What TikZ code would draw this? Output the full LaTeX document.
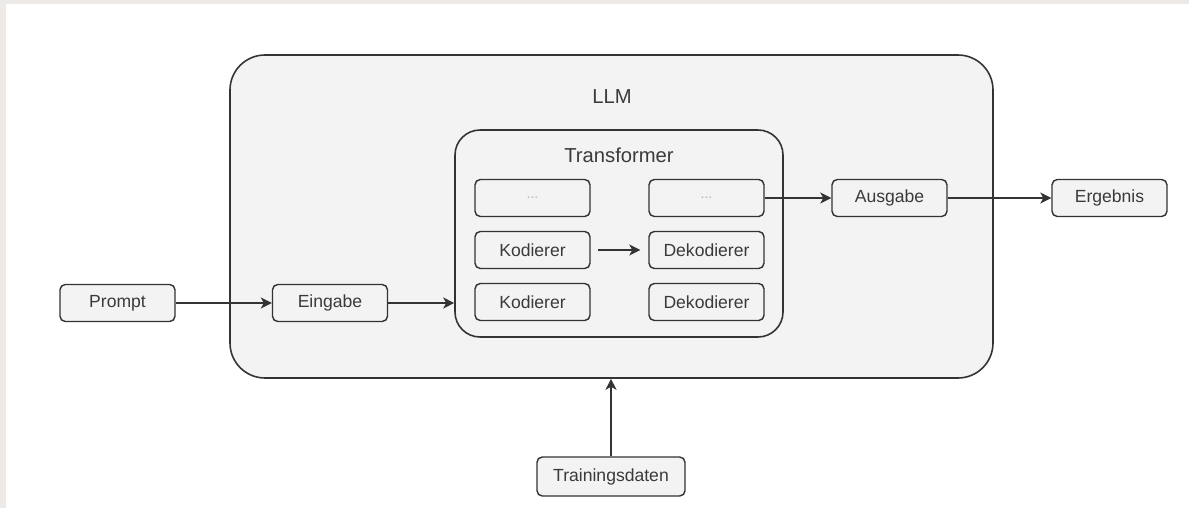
\documentclass[tikz,border=0pt]{standalone}
\usepackage{fontspec}
\setmainfont{Liberation Sans}
\usepackage{xcolor}
\usetikzlibrary{positioning,arrows.meta}

\definecolor{rahmen}{HTML}{ECE9E7}
\definecolor{kasten}{HTML}{F3F3F3}
\definecolor{linie}{HTML}{333333}
\definecolor{schrift}{HTML}{3A3A3A}

\tikzset{
  block/.style={draw=linie, line width=0.8pt, fill=kasten, rounded corners=3pt, text=schrift,
    minimum width=2.3cm, minimum height=0.74cm, inner sep=0pt, font=\fontsize{10}{12}\selectfont},
  huelle/.style={draw=linie, line width=0.9pt, fill=kasten, inner sep=0pt},
  titel/.style={text=schrift, font=\fontsize{11.5}{14}\selectfont},
  pfeil/.style={draw=linie, line width=0.8pt, -{Stealth[length=2.2mm, width=2.2mm, inset=0.6mm]}}
}

\begin{document}
\begin{tikzpicture}
  % Hintergrund
  \fill[rahmen] (0,0) rectangle (23.78,-10.16);
  \fill[white] (0.12,-0.08) rectangle (23.78,-10.16);
  \useasboundingbox (0,0) rectangle (23.78,-10.16);

  % Rahmen
  \node[huelle, rounded corners=0.7cm, minimum width=15.26cm, minimum height=6.46cm] (llm) at (12.23,-4.33) {};
  \node[titel] (llmtext) at (12.24,-1.94) {LLM};

  \node[huelle, rounded corners=0.5cm, minimum width=6.56cm, minimum height=4.14cm] (trafo) at (12.38,-4.67) {};
  \node[titel] (trafotext) at (12.38,-3.10) {Transformer};

  % Transformer-Schichten
  \node[block, text=gray!60, font=\footnotesize] (kod1) at (10.65,-3.96) {...};
  \node[block] (kod2) at (10.65,-5.00) {Kodierer};
  \node[block] (kod3) at (10.65,-6.04) {Kodierer};

  \node[block, text=gray!60, font=\footnotesize] (dek1) at (14.13,-3.96) {...};
  \node[block] (dek2) at (14.13,-5.00) {Dekodierer};
  \node[block] (dek3) at (14.13,-6.04) {Dekodierer};

  % Ein- und Ausgaben
  \node[block] (prompt) at (2.35,-6.06) {Prompt};
  \node[block] (eingabe) at (6.6,-6.06) {Eingabe};
  \node[block] (ausgabe) at (17.79,-3.96) {Ausgabe};
  \node[block] (ergebnis) at (22.19,-3.96) {Ergebnis};
  \node[block, minimum width=2.96cm, minimum height=0.78cm] (daten) at (12.22,-9.53) {Trainingsdaten};

  % Pfeile
  \draw[pfeil] (prompt) -- (eingabe);
  \draw[pfeil] (eingabe) -- (trafo.west|-eingabe);
  \draw[pfeil, shorten <=0.14cm, shorten >=0.16cm] (kod2) -- (dek2);
  \draw[pfeil] (dek1) -- (ausgabe);
  \draw[pfeil] (ausgabe) -- (ergebnis);
  \draw[pfeil] (daten) -- (daten|-llm.south);

\end{tikzpicture}
\end{document}
